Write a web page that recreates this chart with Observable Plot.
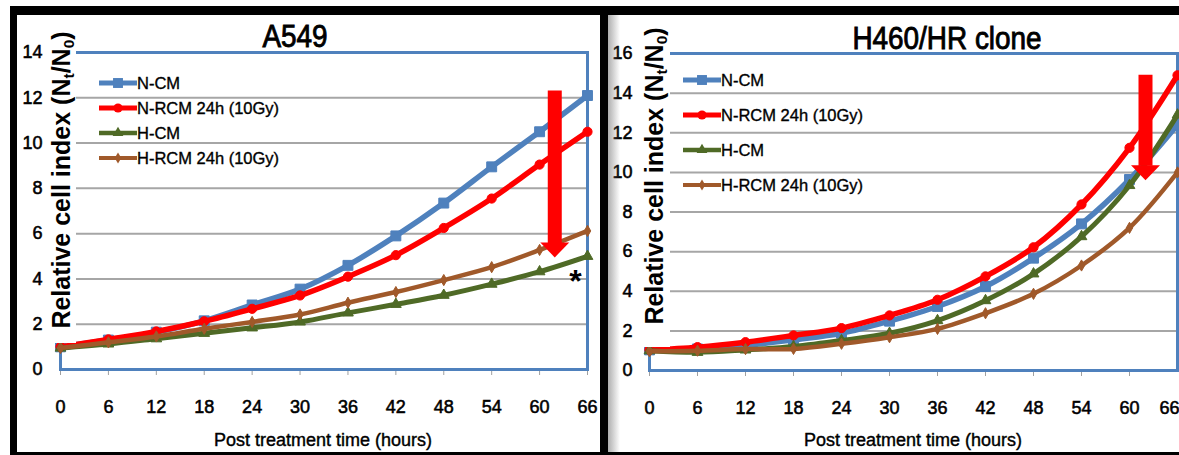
<!DOCTYPE html>
<html><head><meta charset="utf-8">
<script src="https://cdn.jsdelivr.net/npm/d3@7"></script>
<script src="https://cdn.jsdelivr.net/npm/@observablehq/plot@0.6"></script>
<style>
html,body{margin:0;padding:0;background:#fff;}
#root{position:relative;width:1179px;height:455px;overflow:hidden;font-family:"Liberation Sans",Arial,sans-serif;color:#000;}
.abs{position:absolute;}
.ytitle{position:absolute;white-space:nowrap;font-weight:bold;font-size:25px;transform:translate(-50%,-50%) rotate(-90deg);line-height:1;}
.ytitle sub{font-size:0.62em;vertical-align:-0.25em;}
.title{position:absolute;white-space:nowrap;font-size:31px;transform:translate(-50%,-50%) scaleX(0.9);line-height:1;-webkit-text-stroke:0.9px #000;}
.xtitle{position:absolute;white-space:nowrap;font-size:18px;transform:translate(-50%,-50%);line-height:1;-webkit-text-stroke:0.4px #000;}
.legrow{position:absolute;display:flex;align-items:center;height:20px;font-size:16.5px;white-space:nowrap;-webkit-text-stroke:0.35px #000;}
.legrow svg{display:block;}
svg.tick-heavy g[aria-label$="axis tick label"] text{stroke:#000;stroke-width:0.55px;}
</style></head><body><div id="root"></div>
<script>
// ---------- data ----------
const hours = [0, 6, 12, 18, 24, 30, 36, 42, 48, 54, 60, 66];
const seriesNames = ["N-CM", "N-RCM 24h (10Gy)", "H-CM", "H-RCM 24h (10Gy)"];

const a549_NCM  = [1.0, 1.3, 1.65, 2.15, 2.85, 3.55, 4.6, 5.9, 7.35, 8.95, 10.5, 12.1];
const a549_NRCM = [1.0, 1.33, 1.68, 2.13, 2.68, 3.27, 4.1, 5.05, 6.25, 7.55, 9.05, 10.5];
const a549_HCM  = [0.95, 1.13, 1.36, 1.6, 1.84, 2.1, 2.5, 2.88, 3.28, 3.77, 4.32, 5.0];
const a549_HRCM = [0.95, 1.2, 1.46, 1.8, 2.1, 2.43, 2.95, 3.42, 3.95, 4.52, 5.28, 6.12];

const h460_NCM  = [1.04, 1.09, 1.26, 1.55, 1.88, 2.49, 3.23, 4.24, 5.67, 7.4, 9.64, 12.4];
const h460_NRCM = [1.04, 1.18, 1.43, 1.77, 2.14, 2.78, 3.57, 4.75, 6.22, 8.38, 11.24, 14.9];
const h460_HCM  = [1.0, 0.92, 1.04, 1.21, 1.51, 1.88, 2.52, 3.53, 4.88, 6.76, 9.34, 12.9];
const h460_HRCM = [0.97, 1.0, 1.08, 1.09, 1.35, 1.68, 2.1, 2.89, 3.87, 5.3, 7.2, 10.0];

const yTicksA549 = [0, 2, 4, 6, 8, 10, 12, 14];
const yTicksH460 = [0, 2, 4, 6, 8, 10, 12, 14, 16];
const xTicks = [0, 6, 12, 18, 24, 30, 36, 42, 48, 54, 60, 66];

const titleA549 = "A549";
const titleH460 = "H460/HR clone";
const xTitle = "Post treatment time (hours)";

// annotations (data units)
const arrowA549 = [{x: 61.9, top: 12.3, tip: 4.95}];
const arrowH460 = [{x: 62.0, top: 14.9, tip: 9.6}];
const asteriskA549 = [{x: 64.5, y: 4.24, text: "*"}];

// ---------- styles ----------
const seriesStyle = [
  {color: "#4f81bd", symbol: "square", r: 5.6, sw: 5.5},
  {color: "#ff0000", symbol: "circle", r: 4.6, sw: 5.5},
  {color: "#4f6a26", symbol: "triangle", r: 4.0, sw: 5},
  {color: "#a0592a", symbol: "diamond", r: 3.4, sw: 4.5}
];

const arrowHead = {
  draw(ctx) { ctx.moveTo(0, 0); ctx.lineTo(-14.5, -15); ctx.lineTo(14.5, -15); ctx.closePath(); }
};

function toRows(arrays) {
  const rows = [];
  arrays.forEach((vals, s) => vals.forEach((v, i) => rows.push({series: seriesNames[s], s, hour: hours[i], value: v})));
  return rows;
}

function panel({arrays, yDomain, yTicks, width, height, margins, tickPad, arrow, asterisk, lastTickEnd}) {
  const rows = toRows(arrays);
  const mainX = lastTickEnd ? xTicks.slice(0, -1) : xTicks;
  const marks = [
    Plot.gridY(yTicks, {stroke: "#a6a6a6", strokeOpacity: 1, strokeWidth: 2}),
    Plot.axisY(yTicks, {tickSize: 0, tickPadding: tickPad, fontSize: 18, label: null}),
    Plot.axisX(mainX, {tickSize: 6, tickPadding: 25, stroke: "#a0a0a0", fill: "#000", fontSize: 18, label: null})
  ];
  if (lastTickEnd) {
    marks.push(Plot.axisX(xTicks.slice(-1), {tickSize: 6, tickPadding: 25, stroke: "#a0a0a0", fill: "#000", fontSize: 18, label: null, textAnchor: "end", dx: 2}));
  }
  marks.push(Plot.frame({stroke: "#4f81bd", strokeWidth: 3}));
  seriesNames.forEach((name, s) => {
    const st = seriesStyle[s];
    const d = rows.filter(r => r.s === s);
    marks.push(Plot.line(d, {x: "hour", y: "value", stroke: st.color, strokeWidth: st.sw, curve: "catmull-rom"}));
    marks.push(Plot.dot(d, {x: "hour", y: "value", symbol: st.symbol, r: st.r, fill: st.color, stroke: st.color, strokeWidth: 1}));
  });
  if (arrow) {
    marks.push(Plot.ruleX(arrow, {x: "x", y1: "top", y2: "tip", stroke: "#ff0000", strokeWidth: 14, insetBottom: 14}));
    marks.push(Plot.dot(arrow, {x: "x", y: "tip", symbol: arrowHead, r: 10, fill: "#ff0000", stroke: "none"}));
  }
  if (asterisk) {
    marks.push(Plot.text(asterisk, {x: "x", y: "y", text: "text", fontSize: 32, fontWeight: "bold", dy: 8, fill: "#000"}));
  }
  const svg = Plot.plot({
    width, height,
    marginLeft: margins[0], marginRight: margins[1], marginTop: margins[2], marginBottom: margins[3],
    x: {domain: [0, 66], label: null},
    y: {domain: yDomain, label: null},
    style: {fontFamily: '"Liberation Sans", Arial, sans-serif', fontSize: "18px", color: "#000", background: "transparent", overflow: "visible"},
    marks
  });
  svg.classList.add("tick-heavy");
  return svg;
}

const root = document.getElementById("root");
function addDiv(cls, css, html) {
  const d = document.createElement("div");
  d.className = cls;
  Object.assign(d.style, css);
  if (html !== undefined) d.innerHTML = html;
  root.appendChild(d);
  return d;
}

// left panel
const left = panel({arrays: [a549_NCM, a549_NRCM, a549_HCM, a549_HRCM], yDomain: [0, 14], yTicks: yTicksA549,
  width: 600, height: 455, margins: [60, 13, 52, 86], tickPad: 18, arrow: arrowA549, asterisk: asteriskA549});
left.style.position = "absolute"; left.style.left = "0px"; left.style.top = "0px";
root.appendChild(left);

// right panel
const right = panel({arrays: [h460_NCM, h460_NRCM, h460_HCM, h460_HRCM], yDomain: [0, 16], yTicks: yTicksH460,
  width: 579, height: 455, margins: [49, 2, 53, 85], tickPad: 17, arrow: arrowH460, lastTickEnd: true});
right.style.position = "absolute"; right.style.left = "600px"; right.style.top = "0px";
root.appendChild(right);

// white boxes behind y titles (Excel axis title boxes)
addDiv("abs", {left: "48px", top: "28px", width: "28px", height: "315px", background: "#fff"});
addDiv("abs", {left: "640px", top: "22px", width: "30px", height: "325px", background: "#fff"});

const yTitleHTML = "Relative cell index (N<sub>t</sub>/N<sub>0</sub>)";
addDiv("ytitle", {left: "63px", top: "180px"}, yTitleHTML);
addDiv("ytitle", {left: "656px", top: "176px"}, yTitleHTML);

addDiv("title", {left: "295px", top: "36px"}, titleA549);
addDiv("title", {left: "947px", top: "38px"}, titleH460);
addDiv("xtitle", {left: "323px", top: "440px"}, xTitle);
addDiv("xtitle", {left: "913px", top: "440px"}, xTitle);

// legends
function legend(x, ys) {
  seriesNames.forEach((name, s) => {
    const st = seriesStyle[s];
    const row = addDiv("legrow", {left: x + "px", top: (ys[s] - 10) + "px"});
    const svg = d3.create("svg").attr("width", 38).attr("height", 20);
    svg.append("line").attr("x1", 0).attr("x2", 38).attr("y1", 10).attr("y2", 10)
      .attr("stroke", st.color).attr("stroke-width", st.sw - 0.5);
    svg.append("path").attr("transform", "translate(19,10)")
      .attr("d", d3.symbol(d3["symbol" + st.symbol[0].toUpperCase() + st.symbol.slice(1)], Math.PI * st.r * st.r)())
      .attr("fill", st.color);
    row.appendChild(svg.node());
    const t = document.createElement("span");
    t.textContent = name;
    row.appendChild(t);
  });
}
legend(99, [83, 108, 133, 158]);
legend(683, [80, 115, 150, 185]);

// black frame and shadow
addDiv("abs", {left: "608px", top: "15px", width: "12px", height: "437px", background: "linear-gradient(to right, rgba(120,120,120,0.6), rgba(255,255,255,0))"});
addDiv("abs", {left: "10px", top: "6px", width: "1169px", height: "9px", background: "#000"});
addDiv("abs", {left: "10px", top: "6px", width: "7px", height: "449px", background: "#000"});
addDiv("abs", {left: "600px", top: "6px", width: "8px", height: "449px", background: "#000"});
addDiv("abs", {left: "10px", top: "452px", width: "1169px", height: "3px", background: "#000"});
</script></body></html>
